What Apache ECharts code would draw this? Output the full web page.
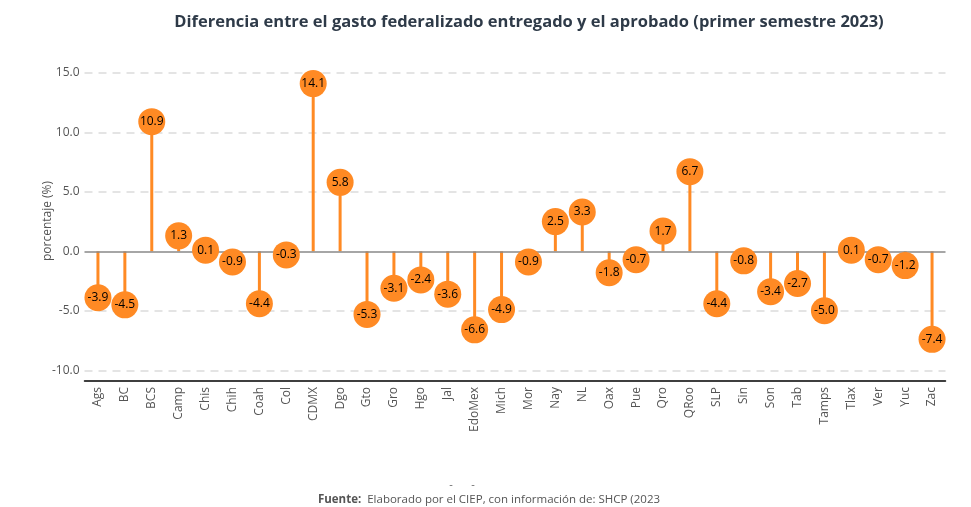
<!DOCTYPE html>
<html>
<head>
<meta charset="utf-8">
<script src="https://cdn.jsdelivr.net/npm/echarts@6/dist/echarts.min.js"></script>
<style>
html,body{margin:0;padding:0;background:#fff;}
#c{width:971px;height:507px;}
</style>
</head>
<body>
<div id="c"></div>
<script>
const categories = ["Ags","BC","BCS","Camp","Chis","Chih","Coah","Col","CDMX","Dgo","Gto","Gro","Hgo","Jal","EdoMex","Mich","Mor","Nay","NL","Oax","Pue","Qro","QRoo","SLP","Sin","Son","Tab","Tamps","Tlax","Ver","Yuc","Zac"];
const values = [-3.9,-4.5,10.9,1.3,0.1,-0.9,-4.4,-0.3,14.1,5.8,-5.3,-3.1,-2.4,-3.6,-6.6,-4.9,-0.9,2.5,3.3,-1.8,-0.7,1.7,6.7,-4.4,-0.8,-3.4,-2.7,-5.0,0.1,-0.7,-1.2,-7.4];
const yTicks = [-10, -5, 0, 5, 10, 15];

const ORANGE = '#FF8A24';
const FONT = '"Open Sans", "Noto Sans", sans-serif';
const chart = echarts.init(document.getElementById('c'), null, {renderer: 'canvas'});
chart.setOption({
  animation: false,
  textStyle: {fontFamily: FONT},
  title: [{
    text: 'Diferencia entre el gasto federalizado entregado y el aprobado (primer semestre 2023)',
    left: 524, top: 9, textAlign: 'center',
    textStyle: {fontSize: 16.5, fontWeight: 'bold', color: '#2E3A48', fontFamily: FONT}
  }, {
    text: '{b|Fuente:}  Elaborado por el CIEP, con información de: SHCP (2023',
    left: 484, top: 489, textAlign: 'center',
    textStyle: {fontSize: 11.5, fontWeight: 'normal', color: '#555', fontFamily: FONT,
      rich: {b: {fontWeight: 'bold', fontSize: 11.5, color: '#555', fontFamily: FONT}}}
  }, {
    text: '-',
    left: 446, top: 474, textAlign: 'center',
    textStyle: {fontSize: 11, fontWeight: 'normal', color: '#666', fontFamily: FONT}
  }, {
    text: '-',
    left: 468, top: 474, textAlign: 'center',
    textStyle: {fontSize: 11, fontWeight: 'normal', color: '#666', fontFamily: FONT}
  }],
  grid: {left: 84.5, right: 25.5, top: 61, bottom: 126},
  xAxis: {
    type: 'category',
    data: categories,
    axisLine: {onZero: false, lineStyle: {color: '#000', width: 1.5}},
    axisTick: {inside: true, length: 4, alignWithLabel: true, lineStyle: {color: '#666'}},
    axisLabel: {rotate: 90, color: '#555', fontSize: 12, margin: 6, fontFamily: FONT}
  },
  yAxis: {
    type: 'value',
    min: -10.9, max: 16,
    name: 'porcentaje (%)',
    nameLocation: 'middle',
    nameGap: 31,
    nameMoveOverlap: false,
    nameTextStyle: {color: '#555', fontSize: 12, fontFamily: FONT},
    axisLine: {show: false},
    axisTick: {show: false},
    axisLabel: {color: '#555', fontSize: 12, fontFamily: FONT, margin: 5,
      customValues: yTicks,
      formatter: function (v) { return Number(v).toFixed(1); }},
    splitLine: {show: false}
  },
  series: [{
    type: 'bar',
    data: values,
    barWidth: 3,
    itemStyle: {color: ORANGE},
    z: 3,
    markLine: {
      silent: true, symbol: 'none', label: {show: false},
      lineStyle: {color: '#dcdcdc', type: [8, 6], width: 1.5},
      data: yTicks.filter(function (v) { return v !== 0; }).map(function (v) { return {yAxis: v}; }),
      z: 1
    }
  }, {
    type: 'line',
    data: [],
    markLine: {
      silent: true, symbol: 'none', label: {show: false},
      lineStyle: {color: '#888', type: 'solid', width: 1.5},
      data: [{yAxis: 0}]
    },
    z: 2
  }, {
    type: 'scatter',
    data: values,
    symbolSize: 27,
    itemStyle: {color: ORANGE, opacity: 1},
    label: {show: true, position: 'inside', color: '#000', fontSize: 12, fontFamily: FONT,
      formatter: function (p) { return p.value.toFixed(1); }},
    z: 5
  }]
});
</script>
</body>
</html>
